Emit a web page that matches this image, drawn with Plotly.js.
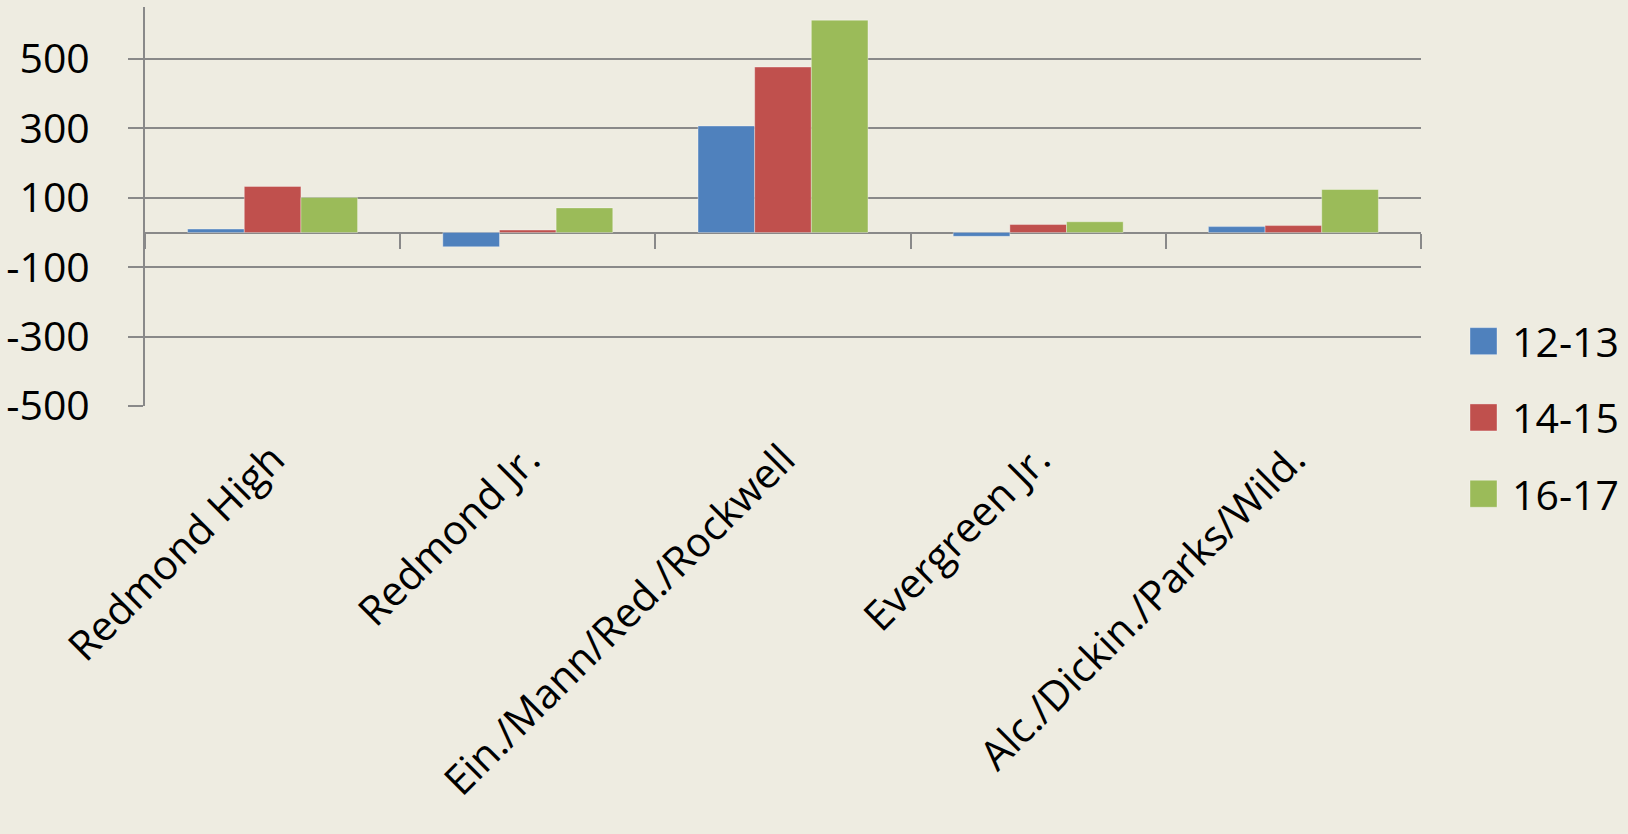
<!DOCTYPE html>
<html>
<head>
<meta charset="utf-8">
<script src="https://cdn.plot.ly/plotly-3.0.1.min.js"></script>
<style>
  html, body { margin: 0; padding: 0; background: #EEECE1; }
  #chart { width: 1628px; height: 834px; }
</style>
</head>
<body>
<div id="chart"></div>
<script>
// ---- data ----
const categories = ["Redmond High", "Redmond Jr.", "Ein./Mann/Red./Rockwell", "Evergreen Jr.", "Alc./Dickin./Parks/Wild."];
const seriesNames = ["12-13", "14-15", "16-17"];
const values1213 = [10, -41, 307, -11, 17];
const values1415 = [133, 7, 477, 23, 20];
const values1617 = [101, 71, 612, 31, 124];
const yTickVals = [-500, -300, -100, 100, 300, 500];

// ---- style ----
const colors = ["#4F81BD", "#C0504D", "#9BBB59"];
const gridCol = "#898989";
const fontFam = "'Open Sans', sans-serif";
const fontSize = 41;

const seriesValues = [values1213, values1415, values1617];
const data = seriesValues.map((vals, i) => ({
  type: "bar",
  name: seriesNames[i],
  x: categories,
  y: vals,
  legendgroup: "g" + i,
  marker: { color: colors[i], line: { color: "rgba(255,255,255,0.35)", width: 1 } },
  hoverinfo: "skip"
}));
// helper trace so the secondary category axis (ticks along the zero line) is drawn
data.push({
  type: "scatter", mode: "none", x: categories, y: values1213,
  xaxis: "x2", yaxis: "y", showlegend: false, hoverinfo: "skip"
});

const yMin = -500, yMax = 650;

const layout = {
  width: 1628, height: 834,
  paper_bgcolor: "#EEECE1", plot_bgcolor: "#EEECE1",
  margin: { l: 145, r: 207, t: 7, b: 428 },
  barmode: "group", bargap: 0.334, bargroupgap: 0,
  font: { family: fontFam, size: fontSize, color: "#000" },
  showlegend: true,
  legend: {
    xref: "container", yref: "container",
    x: 1455 / 1628, xanchor: "left",
    y: 1 - 308 / 834, yanchor: "top",
    font: { family: fontFam, size: fontSize, color: "#000" },
    itemwidth: 47, tracegroupgap: 20, traceorder: "grouped",
    bgcolor: "rgba(0,0,0,0)"
  },
  xaxis: {
    type: "category", categoryarray: categories, range: [-0.5, 4.5],
    tickangle: -45, ticks: "", showline: false, showgrid: false, zeroline: false,
    ticklabelstandoff: 20,
    tickfont: { family: fontFam, size: fontSize, color: "#000" }
  },
  xaxis2: {
    type: "category", categoryarray: categories, range: [-0.5, 4.5],
    overlaying: "x", anchor: "free", position: (0 - yMin) / (yMax - yMin), side: "bottom",
    showticklabels: false, ticks: "outside", tickson: "boundaries",
    ticklen: 15, tickwidth: 2, tickcolor: gridCol,
    showline: false, showgrid: false, zeroline: false
  },
  yaxis: {
    range: [yMin, yMax], tickvals: yTickVals, ticktext: yTickVals.map(String),
    showgrid: true, gridcolor: gridCol, gridwidth: 2,
    zeroline: true, zerolinecolor: gridCol, zerolinewidth: 2,
    showline: true, linecolor: gridCol, linewidth: 2,
    ticks: "outside", ticklen: 15, tickwidth: 2, tickcolor: gridCol,
    ticklabelstandoff: 30,
    tickfont: { family: fontFam, size: fontSize, color: "#000" }
  }
};

Plotly.newPlot("chart", data, layout, { staticPlot: true, displayModeBar: false }).then(gd => {
  gd.querySelectorAll(".legendpoints path").forEach(p => p.setAttribute("d", "M13.5,13.5H-13.5V-13.5H13.5Z"));
});
</script>
</body>
</html>
